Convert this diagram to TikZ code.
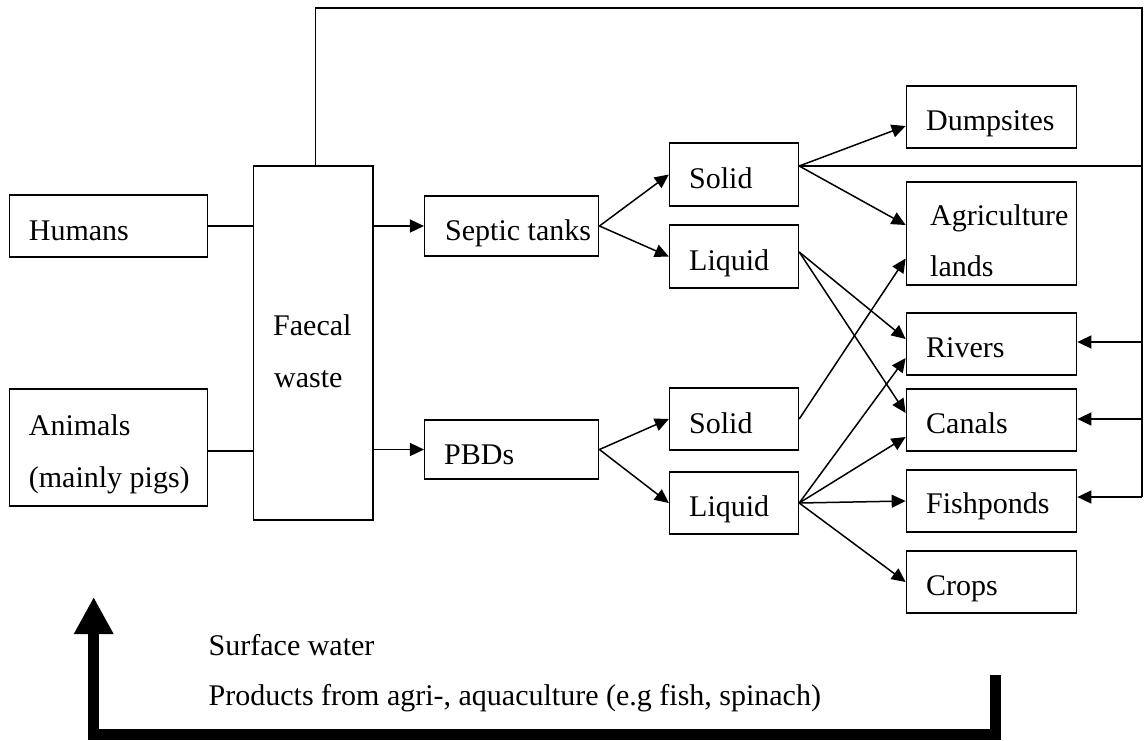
\documentclass[tikz,border=0pt]{standalone}
\usepackage{fontspec}
\setmainfont{Liberation Serif}
\usetikzlibrary{arrows.meta,calc}
\begin{document}
\begin{tikzpicture}[x=1pt,y=-1pt,line join=miter,
  box/.style={draw, line width=1.5pt, inner sep=0pt},
  txt/.style={anchor=base west, inner sep=0pt, font=\fontsize{30}{52}\selectfont},
  ln/.style={line width=1.5pt},
  arr/.style={line width=1.5pt, -{Triangle[length=14pt,width=13pt]}},
  big/.style={line width=11pt, -{Triangle[length=37pt,width=37pt]}}]
\useasboundingbox (0,0) rectangle (1144,740);

% boxes
\node[box, minimum width=197.8, minimum height=62]  (hum)  at (108.5,226) {};
\node[box, minimum width=119.4, minimum height=354] (fae)  at (313.4,343) {};
\node[box, minimum width=174,   minimum height=60]  (sep)  at (511.7,226) {};
\node[box, minimum width=197.8, minimum height=117] (ani)  at (108.5,447.5) {};
\node[box, minimum width=174,   minimum height=59]  (pbd)  at (511.7,449.5) {};
\node[box, minimum width=128.9, minimum height=63]  (s1)   at (734,174.5) {};
\node[box, minimum width=128.9, minimum height=63]  (l1)   at (734,256.5) {};
\node[box, minimum width=128.9, minimum height=62]  (s2)   at (734,419) {};
\node[box, minimum width=128.9, minimum height=62]  (l2)   at (734,503) {};
\node[box, minimum width=170.2, minimum height=62]  (dump) at (991.5,117) {};
\node[box, minimum width=170.2, minimum height=103] (agr)  at (991.5,233.5) {};
\node[box, minimum width=170.2, minimum height=62]  (riv)  at (991.5,344) {};
\node[box, minimum width=170.2, minimum height=62]  (can)  at (991.5,420) {};
\node[box, minimum width=170.2, minimum height=62]  (fish) at (991.5,501) {};
\node[box, minimum width=170.2, minimum height=62]  (crop) at (991.5,582) {};

% texts
\node[txt] (humT)  at (28.7,240) {Humans};
\node[txt] (faeT1) at (273,335)  {Faecal};
\node[txt] (faeT2) at (274,387)  {waste};
\node[txt] (sepT)  at (445,240)  {Septic tanks};
\node[txt] (aniT1) at (28.7,435) {Animals};
\node[txt] (aniT2) at (28.7,487) {(mainly pigs)};
\node[txt] (pbdT)  at (444,464)  {PBDs};
\node[txt] (s1T)   at (689,188)  {Solid};
\node[txt] (l1T)   at (689,270)  {Liquid};
\node[txt] (s2T)   at (689,433)  {Solid};
\node[txt] (l2T)   at (689,516)  {Liquid};
\node[txt] (dumpT) at (926,130)  {Dumpsites};
\node[txt] (agrT1) at (930,225)  {Agriculture};
\node[txt] (agrT2) at (930,276)  {lands};
\node[txt] (rivT)  at (926,357)  {Rivers};
\node[txt] (canT)  at (926,433)  {Canals};
\node[txt] (fishT) at (926,513)  {Fishponds};
\node[txt] (cropT) at (926,595)  {Crops};
\node[txt] (sw)    at (208.5,655) {Surface water};
\node[txt] (pr)    at (208.5,705) {Products from agri-, aquaculture (e.g fish, spinach)};

% connectors
\draw[ln] (hum.east) -- (hum.east -| fae.west);
\draw[arr] (fae.east |- sep.west) -- (sep.west);
\coordinate (anio) at ([yshift=-3.5pt]ani.east);
\draw[ln] (anio) -- (anio -| fae.west);
\draw[arr] (fae.east |- pbd.west) -- (pbd.west);
\draw[arr] (sep.east) -- (s1.west);
\draw[arr] (sep.east) -- (l1.west);
\draw[arr] (pbd.east) -- (s2.west);
\draw[arr] (pbd.east) -- (l2.west);

\coordinate (tr) at (1142,8);
\coordinate (s1o) at ([yshift=8.5pt]s1.east);
\draw[arr] (s1o) -- ([yshift=-9pt]dump.west);
\draw[ln] (s1o) -- (s1o -| tr);
\draw[arr] (s1o) -- ([yshift=8.5pt]agr.west);
\coordinate (l1o) at ([yshift=4.5pt]l1.east);
\draw[arr] (l1o) -- ([yshift=5pt]riv.west);
\draw[arr] (l1o) -- ([yshift=7pt]can.west);
\draw[arr] (s2.east) -- ([yshift=-25pt]agr.west);
\draw[arr] (l2.east) -- ([yshift=-14pt]riv.west);
\draw[arr] (l2.east) -- ([yshift=-17pt]can.west);
\draw[arr] (l2.east) -- (fish.west);
\draw[arr] (l2.east) -- (crop.west);

% feedback on the right
\coordinate (re) at ([yshift=2pt]riv.east);
\coordinate (ce) at ([yshift=1pt]can.east);
\coordinate (fe) at ([yshift=4pt]fish.east);
\draw[ln] ([xshift=2.3pt]fae.north) |- (tr) -- (tr |- fe);
\draw[arr] (tr |- re) -- (re);
\draw[arr] (tr |- ce) -- (ce);
\draw[arr] (tr |- fe) -- (fe);

% big return arrow
\coordinate (b1) at (995.4,675);
\coordinate (br) at (995.4,734.5);
\coordinate (bl) at (93.7,734.5);
\coordinate (b2) at (93.7,597);
\draw[big] (b1) -- (br) -- (bl) -- (b2);
\end{tikzpicture}
\end{document}
